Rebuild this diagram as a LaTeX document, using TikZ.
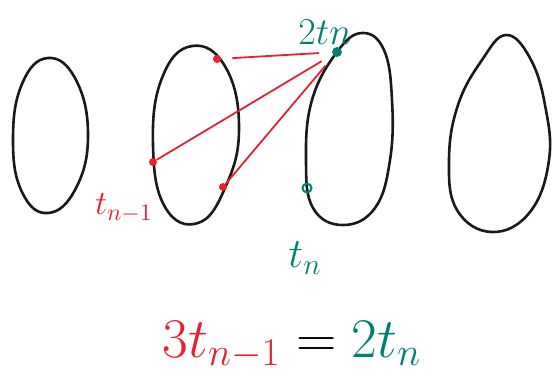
\RequirePackage{fix-cm}
\documentclass[tikz,border=0pt]{standalone}
\usepackage{amsmath}
\usepackage{xcolor}
\usepackage{tikz}
\usetikzlibrary{positioning}
\definecolor{hRed}{RGB}{232,32,48}
\definecolor{hTeal}{RGB}{0,128,112}
\definecolor{hInk}{RGB}{25,25,25}

\begin{document}
\begin{tikzpicture}[
  x=0.5pt, y=-0.5pt,
  oval/.style={draw=hInk, line width=1.3pt, line join=round},
  link/.style={color=hRed, line width=0.9pt},
  reddot/.style={circle, fill=hRed, inner sep=0pt, minimum size=4pt},
  tealdot/.style={circle, draw=hTeal, fill=hTeal, inner sep=0pt, minimum size=4.5pt},
  lbl/.style={inner sep=0pt},
]
  \useasboundingbox (0,0) rectangle (552,376);

  % four regions
  \draw[oval] plot[smooth cycle, tension=0.75] coordinates {
    (48,58) (76,80) (88,135) (76,188) (48,213) (22,192) (13,140) (22,84)};
  \draw[oval] plot[smooth cycle, tension=0.75] coordinates {
    (192,46) (226,68) (239,130) (225,188) (198,223) (165,207) (153,145) (162,78)};
  \draw[oval] plot[smooth cycle, tension=0.7] coordinates {
    (362,33) (384,50) (392,100) (390,160) (375,208) (343,225)
    (313,208) (306,160) (312,100) (337,52)};
  \draw[oval] plot[smooth cycle, tension=0.7] coordinates {
    (506,35) (530,58) (545,105) (549,160) (530,212) (492,232)
    (457,210) (449,160) (458,105) (482,60)};

  % points
  \node[reddot] (r1) at (217,59) {};
  \node[reddot] (r2) at (153,162) {};
  \node[reddot] (r3) at (223,187) {};
  \node[tealdot] (s1) at (337,52) {};
  \node[tealdot, fill=none, line width=1pt] (s2) at (307,188) {};

  \draw[link, shorten <=5.5pt, shorten >=6.5pt] (r1) -- (s1);
  \draw[link, shorten >=6.5pt] (r2) -- (s1);
  \draw[link, shorten >=6.5pt] (r3) -- (s1);

  % labels
  \node[lbl, color=hTeal, font=\fontsize{19}{22}\selectfont] (twotn) at (325,32) {$2tn$};
  \node[lbl, color=hRed, font=\fontsize{17}{20}\selectfont] (tprev) at (124,208) {$t_{n-1}$};
  \node[lbl, color=hTeal, font=\fontsize{21}{24}\selectfont] (tcur) at (305,258) {$t_n$};
  \node[lbl, font=\fontsize{28}{32}\selectfont] (eq) at (292,345)
    {$\textcolor{hRed}{3t_{n-1}} = \textcolor{hTeal}{2t_n}$};
\end{tikzpicture}
\end{document}
